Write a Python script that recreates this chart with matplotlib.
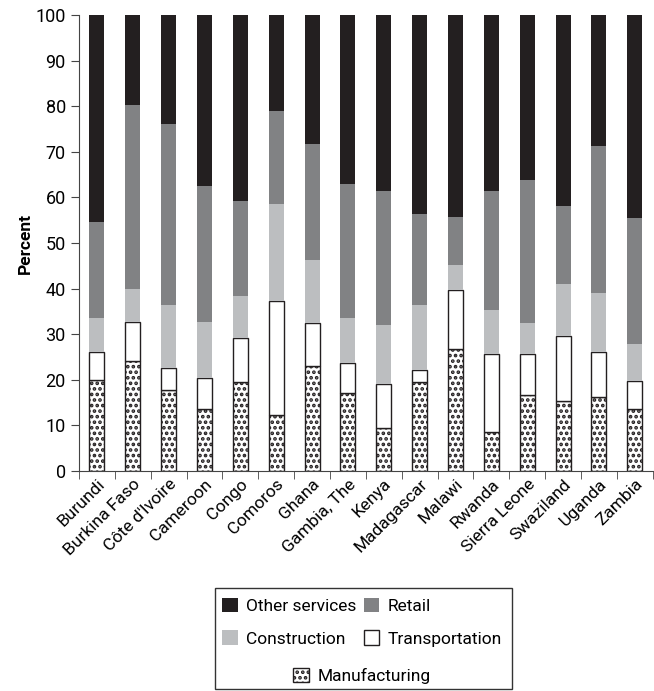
import numpy as np
import matplotlib
matplotlib.use("Agg")
import matplotlib.pyplot as plt
from matplotlib.patches import Patch, Rectangle

plt.rcParams['font.family'] = ['Roboto', 'DejaVu Sans']
plt.rcParams['hatch.linewidth'] = 1.8

countries = ["Burundi", "Burkina Faso", "Côte d'Ivoire", "Cameroon", "Congo",
             "Comoros", "Ghana", "Gambia, The", "Kenya", "Madagascar",
             "Malawi", "Rwanda", "Sierra Leone", "Swaziland", "Uganda", "Zambia"]

# shares in percent
manufacturing  = [19.9, 24.1, 17.8, 13.6, 19.6, 12.3, 23.1, 17.2, 9.4, 19.5, 26.7, 8.5, 16.7, 15.4, 16.3, 13.5]
transportation = [6.1, 8.6, 4.7, 6.9, 9.6, 25.0, 9.4, 6.5, 9.7, 2.6, 13.0, 17.1, 8.9, 14.2, 9.7, 6.2]
construction   = [7.6, 7.2, 13.8, 12.2, 9.2, 21.3, 13.8, 9.9, 12.9, 14.2, 5.5, 9.7, 6.9, 11.4, 13.0, 8.2]
retail         = [20.9, 40.4, 39.8, 29.8, 20.8, 20.3, 25.4, 29.4, 29.3, 20.1, 10.6, 26.0, 31.3, 17.1, 32.3, 27.6]
other_services = [100 - (a + b + c + d) for a, b, c, d in
                  zip(manufacturing, transportation, construction, retail)]

c_other = '#231f20'
c_retail = '#818284'
c_constr = '#bcbec0'

fig = plt.figure(figsize=(6.54, 6.91), dpi=100)
ax = fig.add_axes([79 / 654, 1 - 471 / 691, 1 - 79 / 654 - 0.002, (471 - 15) / 691])

x = np.arange(len(countries))
w = 0.42
b = np.zeros(len(countries))
ax.bar(x, manufacturing, w, bottom=b, color='white', edgecolor='#231f20',
       hatch='...', linewidth=1.0)
b += manufacturing
ax.bar(x, transportation, w, bottom=b, color='white', edgecolor='#231f20', linewidth=1.0)
b += transportation
ax.bar(x, construction, w, bottom=b, color=c_constr, linewidth=0)
b += construction
ax.bar(x, retail, w, bottom=b, color=c_retail, linewidth=0)
b += retail
ax.bar(x, other_services, w, bottom=b, color=c_other, linewidth=0)

ax.set_xlim(-0.5, len(countries) - 0.5)
ax.set_ylim(0, 100)
ax.set_yticks(np.arange(0, 101, 10))
ax.set_xticks(x)
ax.set_xticklabels(countries, rotation=45, ha='right', rotation_mode='anchor', fontsize=12.5)
ax.tick_params(axis='x', length=0, pad=4)
ax.set_xticks(np.arange(-0.5, len(countries), 1), minor=True)
ax.tick_params(axis='x', which='minor', length=6, direction='out', color='#444444')
ax.tick_params(axis='y', length=6, direction='out', labelsize=13, color='#444444')
for s in ['top', 'right']:
    ax.spines[s].set_visible(False)
for s in ['left', 'bottom']:
    ax.spines[s].set_color('#444444')
ax.set_ylabel('Percent', fontsize=12.5, fontweight='bold', labelpad=2)

# legend block
fig.patches.append(Rectangle((215 / 654, 2 / 691), 297 / 654, 101 / 691,
                             transform=fig.transFigure, fill=False,
                             edgecolor='#333333', linewidth=1.0))
h_other = Patch(facecolor=c_other, label='Other services')
h_retail = Patch(facecolor=c_retail, label='Retail')
h_constr = Patch(facecolor=c_constr, label='Construction')
h_trans = Patch(facecolor='white', edgecolor='#231f20', label='Transportation')
h_manuf = Patch(facecolor='white', edgecolor='#231f20', hatch='...', label='Manufacturing')

fig.legend(handles=[h_other, h_constr, h_retail, h_trans], ncol=2,
           loc='upper center', bbox_to_anchor=(362 / 654, 1 - 582 / 691),
           frameon=False, fontsize=12.5, handlelength=0.9, handleheight=0.9,
           handletextpad=0.5, columnspacing=0.4, labelspacing=0.95)
fig.legend(handles=[h_manuf], loc='upper center',
           bbox_to_anchor=(362 / 654, 1 - 652 / 691),
           frameon=False, fontsize=12.5, handlelength=0.9, handleheight=0.9,
           handletextpad=0.5)

fig.savefig('out.png', dpi=100)
